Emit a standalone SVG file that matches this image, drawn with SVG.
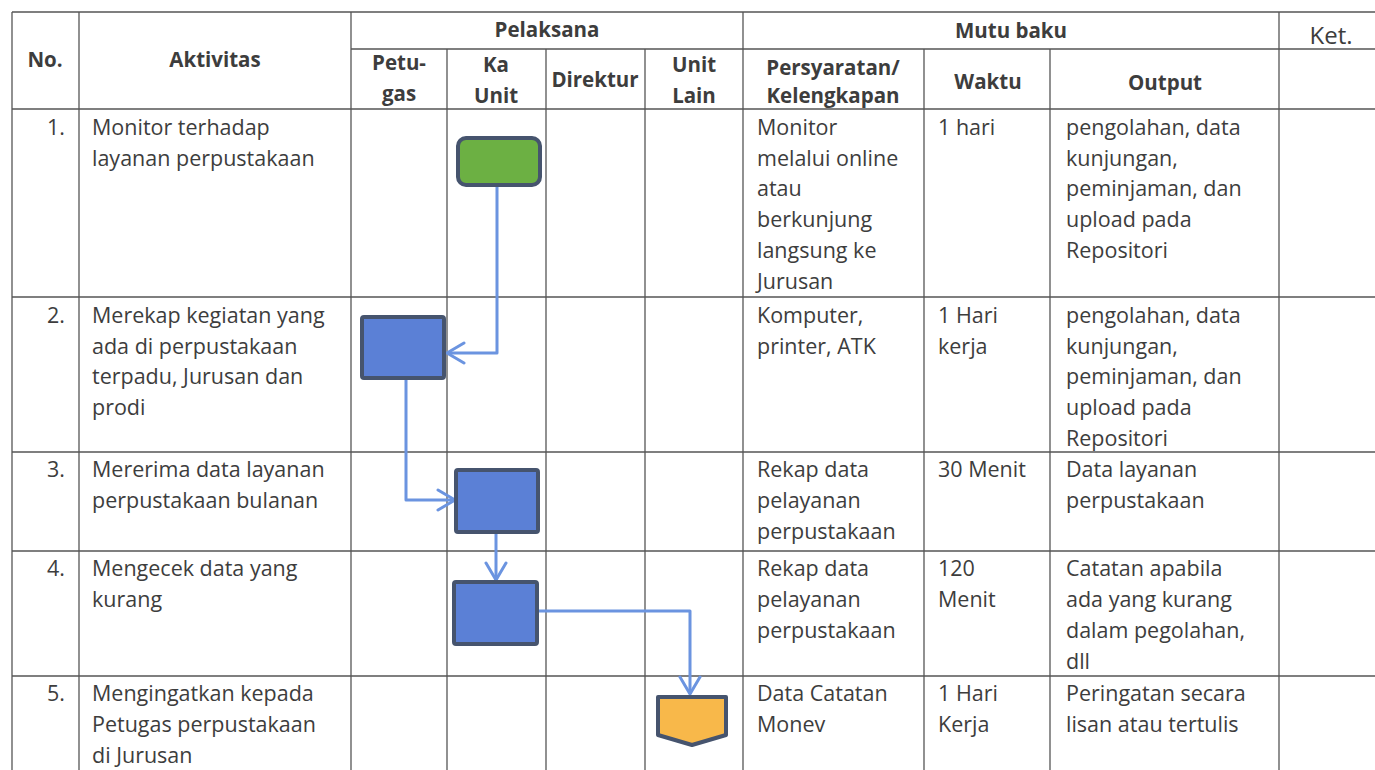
<svg xmlns="http://www.w3.org/2000/svg" width="1375" height="770" viewBox="0 0 1375 770">
<defs>
<style>
.g{stroke:#555;stroke-width:1.3;fill:none}
.t{font-family:"Open Sans","Liberation Sans",sans-serif;font-size:21.5px;fill:#3d3d3d}
.h{font-family:"Open Sans","Liberation Sans",sans-serif;font-size:20.5px;font-weight:bold;fill:#3d3d3d;text-anchor:middle}
.k{font-family:"Open Sans","Liberation Sans",sans-serif;font-size:24px;fill:#3d3d3d;text-anchor:middle}
.n{text-anchor:end}
.c{stroke:#6b94e0;stroke-width:3;fill:none;stroke-linejoin:round}
.box{fill:#5b80d6;stroke:#46546e;stroke-width:4}
</style>
<marker id="arr" viewBox="0 0 20 24" refX="19" refY="12" markerWidth="20" markerHeight="24" markerUnits="userSpaceOnUse" orient="auto">
<path d="M2,2 L19,12 L2,22" fill="none" stroke="#6b94e0" stroke-width="3" stroke-linecap="round" stroke-linejoin="round"/>
</marker>
</defs>
<rect width="1375" height="770" fill="#fff"/>
<g id="grid">
<line class="g" x1="12" y1="12" x2="1375" y2="12"/>
<line class="g" x1="351" y1="49" x2="1375" y2="49"/>
<line class="g" x1="12" y1="109" x2="1375" y2="109"/>
<line class="g" x1="12" y1="297" x2="1375" y2="297"/>
<line class="g" x1="12" y1="452" x2="1375" y2="452"/>
<line class="g" x1="12" y1="551" x2="1375" y2="551"/>
<line class="g" x1="12" y1="676" x2="1375" y2="676"/>
<line class="g" x1="12" y1="12" x2="12" y2="770"/>
<line class="g" x1="79" y1="12" x2="79" y2="770"/>
<line class="g" x1="351" y1="12" x2="351" y2="770"/>
<line class="g" x1="447" y1="49" x2="447" y2="770"/>
<line class="g" x1="546" y1="49" x2="546" y2="770"/>
<line class="g" x1="645" y1="49" x2="645" y2="770"/>
<line class="g" x1="743" y1="12" x2="743" y2="770"/>
<line class="g" x1="924" y1="49" x2="924" y2="770"/>
<line class="g" x1="1050" y1="49" x2="1050" y2="770"/>
<line class="g" x1="1279" y1="12" x2="1279" y2="770"/>
</g>
<g id="header">
<text class="h" x="45" y="67">No.</text>
<text class="h" x="215" y="67">Aktivitas</text>
<text class="h" x="547" y="37">Pelaksana</text>
<text class="h" x="1011" y="38">Mutu baku</text>
<text class="k" x="1331" y="44">Ket.</text>
<text class="h" x="399" y="70">Petu-</text>
<text class="h" x="399" y="101">gas</text>
<text class="h" x="496" y="72">Ka</text>
<text class="h" x="496" y="103">Unit</text>
<text class="h" x="595" y="87">Direktur</text>
<text class="h" x="694" y="72">Unit</text>
<text class="h" x="694" y="103">Lain</text>
<text class="h" x="833" y="75">Persyaratan/</text>
<text class="h" x="833" y="103">Kelengkapan</text>
<text class="h" x="988" y="89">Waktu</text>
<text class="h" x="1165" y="90">Output</text>
</g>
<g id="row1" class="t">
<text class="n" x="65" y="135">1.</text>
<text x="92" y="135">Monitor terhadap</text>
<text x="92" y="166">layanan perpustakaan</text>
<text x="757" y="135">Monitor</text>
<text x="757" y="166">melalui online</text>
<text x="757" y="196">atau</text>
<text x="757" y="227">berkunjung</text>
<text x="757" y="258">langsung ke</text>
<text x="757" y="289">Jurusan</text>
<text x="938" y="135">1 hari</text>
<text x="1066" y="135">pengolahan, data</text>
<text x="1066" y="166">kunjungan,</text>
<text x="1066" y="196">peminjaman, dan</text>
<text x="1066" y="227">upload pada</text>
<text x="1066" y="258">Repositori</text>
</g>
<g id="row2" class="t">
<text class="n" x="65" y="323">2.</text>
<text x="92" y="323">Merekap kegiatan yang</text>
<text x="92" y="354">ada di perpustakaan</text>
<text x="92" y="384">terpadu, Jurusan dan</text>
<text x="92" y="415">prodi</text>
<text x="757" y="323">Komputer,</text>
<text x="757" y="354">printer, ATK</text>
<text x="938" y="323">1 Hari</text>
<text x="938" y="354">kerja</text>
<text x="1066" y="323">pengolahan, data</text>
<text x="1066" y="354">kunjungan,</text>
<text x="1066" y="384">peminjaman, dan</text>
<text x="1066" y="415">upload pada</text>
<text x="1066" y="446">Repositori</text>
</g>
<g id="row3" class="t">
<text class="n" x="65" y="477">3.</text>
<text x="92" y="477">Mererima data layanan</text>
<text x="92" y="508">perpustakaan bulanan</text>
<text x="757" y="477">Rekap data</text>
<text x="757" y="508">pelayanan</text>
<text x="757" y="539">perpustakaan</text>
<text x="938" y="477">30 Menit</text>
<text x="1066" y="477">Data layanan</text>
<text x="1066" y="508">perpustakaan</text>
</g>
<g id="row4" class="t">
<text class="n" x="65" y="576">4.</text>
<text x="92" y="576">Mengecek data yang</text>
<text x="92" y="607">kurang</text>
<text x="757" y="576">Rekap data</text>
<text x="757" y="607">pelayanan</text>
<text x="757" y="638">perpustakaan</text>
<text x="938" y="576">120</text>
<text x="938" y="607">Menit</text>
<text x="1066" y="576">Catatan apabila</text>
<text x="1066" y="607">ada yang kurang</text>
<text x="1066" y="638">dalam pegolahan,</text>
<text x="1066" y="669">dll</text>
</g>
<g id="row5" class="t">
<text class="n" x="65" y="701">5.</text>
<text x="92" y="701">Mengingatkan kepada</text>
<text x="92" y="732">Petugas perpustakaan</text>
<text x="92" y="763">di Jurusan</text>
<text x="757" y="701">Data Catatan</text>
<text x="757" y="732">Monev</text>
<text x="938" y="701">1 Hari</text>
<text x="938" y="732">Kerja</text>
<text x="1066" y="701">Peringatan secara</text>
<text x="1066" y="732">lisan atau tertulis</text>
</g>
<g id="connectors">
<path class="c" d="M497,187 V353 H447" marker-end="url(#arr)"/>
<path class="c" d="M406,380 V500 H455" marker-end="url(#arr)"/>
<path class="c" d="M496,534 V580" marker-end="url(#arr)"/>
<path class="c" d="M539,611 H690 V694" marker-end="url(#arr)"/>
</g>
<g id="start">
<rect x="458" y="138" width="82" height="47" rx="8" fill="#6cb043" stroke="#46546e" stroke-width="4"/>
</g>
<g id="step2">
<rect class="box" x="362" y="317" width="82" height="61" rx="2"/>
</g>
<g id="step3">
<rect class="box" x="456" y="470" width="82" height="62" rx="2"/>
</g>
<g id="step4">
<rect class="box" x="454" y="582" width="83" height="62" rx="2"/>
</g>
<g id="offpage">
<path d="M658,697 H726 V735 L692,745 L658,735 Z" fill="#f8b84a" stroke="#46546e" stroke-width="4" stroke-linejoin="round"/>
</g>
</svg>
